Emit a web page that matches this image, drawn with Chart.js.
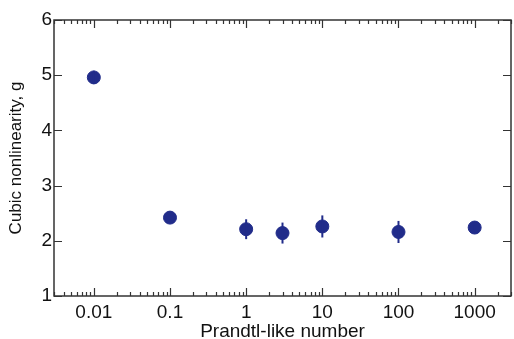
<!DOCTYPE html>
<html>
<head>
<meta charset="utf-8">
<script src="https://cdn.jsdelivr.net/npm/chart.js@4/dist/chart.umd.min.js"></script>
<style>
  html, body { margin: 0; padding: 0; background: #fff; }
  #wrap { width: 514px; height: 339px; }
</style>
</head>
<body>
<div id="wrap"><canvas id="chart1" width="514" height="339"></canvas></div>
<script>
// data
var prandtl = [0.01, 0.1, 1, 3, 10, 100, 1000];
var gValues = [4.96, 2.42, 2.21, 2.14, 2.26, 2.16, 2.24];
var gErrors = [0.12, 0.04, 0.18, 0.19, 0.20, 0.20, 0.04];
var xTickValues = [0.01, 0.1, 1, 10, 100, 1000];
var xTickLabels = ["0.01", "0.1", "1", "10", "100", "1000"];
var yTickValues = [1, 2, 3, 4, 5, 6];

var navy = 'rgb(33,44,138)';
var axisColor = '#333';
var fontFamily = '"Liberation Sans", Arial, Helvetica, sans-serif';

// error bars drawn through the scales
var errorBars = {
  id: 'errorBars',
  afterDatasetsDraw: function(chart) {
    var c = chart.ctx, xs = chart.scales.x, ys = chart.scales.y;
    c.save();
    c.strokeStyle = navy;
    c.lineWidth = 2;
    for (var i = 0; i < prandtl.length; i++) {
      var px = xs.getPixelForValue(prandtl[i]);
      c.beginPath();
      c.moveTo(px, ys.getPixelForValue(gValues[i] - gErrors[i]));
      c.lineTo(px, ys.getPixelForValue(gValues[i] + gErrors[i]));
      c.stroke();
    }
    c.restore();
  }
};

// box frame with inward ticks on all four sides
var frameTicks = {
  id: 'frameTicks',
  afterDraw: function(chart) {
    var c = chart.ctx, a = chart.chartArea, xs = chart.scales.x, ys = chart.scales.y;
    c.save();
    c.strokeStyle = axisColor;
    c.lineWidth = 1.5;
    c.strokeRect(a.left, a.top, a.right - a.left, a.bottom - a.top);
    c.lineWidth = 1.2;
    c.beginPath();
    // x ticks, major and minor
    for (var e = -3; e <= 3; e++) {
      for (var m = 1; m <= 9; m++) {
        var v = m * Math.pow(10, e);
        if (v < xs.min || v > xs.max) continue;
        var px = Math.round(xs.getPixelForValue(v)) + 0.5;
        var len = (m === 1) ? 8 : 4;
        c.moveTo(px, a.bottom); c.lineTo(px, a.bottom - len);
        c.moveTo(px, a.top); c.lineTo(px, a.top + len);
      }
    }
    // y ticks
    yTickValues.forEach(function(v) {
      var py = Math.round(ys.getPixelForValue(v)) + 0.5;
      c.moveTo(a.left, py); c.lineTo(a.left + 8, py);
      c.moveTo(a.right, py); c.lineTo(a.right - 8, py);
    });
    c.stroke();
    c.restore();
  }
};

var ctx = document.getElementById('chart1').getContext('2d');
var chart = new Chart(ctx, {
  type: 'scatter',
  data: {
    datasets: [{
      label: 'g',
      data: prandtl.map(function(p, i) { return { x: p, y: gValues[i] }; }),
      backgroundColor: navy,
      borderColor: navy,
      pointRadius: 6.5,
      pointHoverRadius: 6.5
    }]
  },
  options: {
    responsive: false,
    animation: false,
    layout: { autoPadding: false, padding: { top: 20, right: 3, left: 0, bottom: 0 } },
    plugins: {
      legend: { display: false },
      tooltip: { enabled: false }
    },
    scales: {
      x: {
        type: 'logarithmic',
        min: 0.003,
        max: 3000,
        grid: { display: false, drawTicks: false },
        border: { display: false },
        afterBuildTicks: function(scale) {
          scale.ticks = xTickValues.map(function(v) { return { value: v }; });
        },
        afterFit: function(scale) {
          scale.height = 43;
          scale.paddingRight = 0;
        },
        ticks: {
          autoSkip: false,
          maxRotation: 0,
          padding: 5,
          color: '#111',
          font: { family: fontFamily, size: 19 },
          callback: function(v) {
            var i = xTickValues.indexOf(v);
            return i >= 0 ? xTickLabels[i] : '';
          }
        },
        title: {
          display: true,
          text: 'Prandtl-like number',
          color: '#111',
          font: { family: fontFamily, size: 19 },
          padding: { top: 0, bottom: -4 }
        }
      },
      y: {
        min: 1,
        max: 6,
        grid: { display: false, drawTicks: false },
        border: { display: false },
        afterBuildTicks: function(scale) {
          scale.ticks = yTickValues.map(function(v) { return { value: v }; });
        },
        afterFit: function(scale) { scale.width = 54; },
        ticks: {
          padding: 2,
          color: '#111',
          font: { family: fontFamily, size: 19 }
        },
        title: {
          display: true,
          text: 'Cubic nonlinearity, g',
          color: '#111',
          font: { family: fontFamily, size: 17 },
          padding: { top: 6, bottom: 2 }
        }
      }
    }
  },
  plugins: [errorBars, frameTicks]
});
</script>
</body>
</html>
